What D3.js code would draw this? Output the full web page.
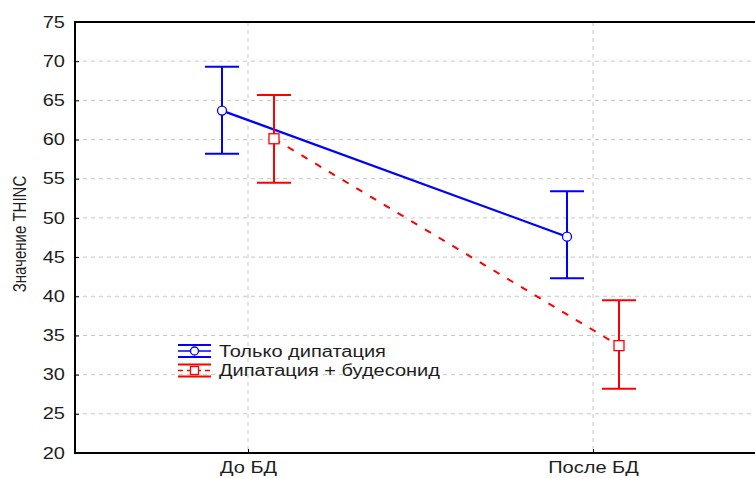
<!DOCTYPE html>
<html>
<head>
<meta charset="utf-8">
<script src="https://cdn.jsdelivr.net/npm/d3@7"></script>
<style>
  html, body { margin: 0; padding: 0; background: #fff; }
  svg { display: block; font-family: "Liberation Sans", Arial, sans-serif; }
</style>
</head>
<body>
<div id="chart"></div>
<script>
const categories = ['До БД', 'После БД'];
const seriesNames = ['Только дипатация', 'Дипатация + будесонид'];
const meanAlone = [63.7, 47.6];
const upperAlone = [69.3, 53.4];
const lowerAlone = [58.2, 42.3];
const meanBud = [60.1, 33.7];
const upperBud = [65.7, 39.5];
const lowerBud = [54.5, 28.2];
const yTicks = [20, 25, 30, 35, 40, 45, 50, 55, 60, 65, 70, 75];
const yTitle = 'Значение THINC';

const width = 755, height = 478;
const plot = { left: 75, top: 22, bottom: 453, right: 767 };
const stretch = 1.25; // the source image is widened horizontally
const textColor = '#1e1e1e';

const svg = d3.select('#chart').append('svg')
  .attr('width', width)
  .attr('height', height);

const y = d3.scaleLinear().domain([20, 75]).range([plot.bottom, plot.top]);
const x = d3.scalePoint().domain(categories).range([248, 593]);

// grid
svg.append('g')
  .selectAll('line')
  .data(yTicks.filter(t => t > 20 && t < 75))
  .enter().append('line')
  .attr('x1', plot.left).attr('x2', plot.right)
  .attr('y1', d => y(d)).attr('y2', d => y(d))
  .attr('stroke', '#c8c8c8')
  .attr('stroke-width', 1)
  .attr('stroke-dasharray', '4,4');

svg.append('g')
  .selectAll('line')
  .data(categories)
  .enter().append('line')
  .attr('x1', d => x(d)).attr('x2', d => x(d))
  .attr('y1', plot.top).attr('y2', plot.bottom)
  .attr('stroke', '#c8c8c8')
  .attr('stroke-width', 1)
  .attr('stroke-dasharray', '4,4');

// axes: ticks point inward, labels are widened like the source
const yAxis = d3.axisLeft(y).tickValues(yTicks).tickSize(-4).tickPadding(10);
const gy = svg.append('g').attr('transform', `translate(${plot.left},0)`).call(yAxis);
gy.select('.domain').remove();
gy.selectAll('line').attr('stroke', '#000');
gy.selectAll('text')
  .attr('font-size', 16).attr('fill', textColor)
  .attr('font-family', '"Liberation Sans", Arial, sans-serif')
  .attr('transform', `translate(-10,0) scale(${stretch},1)`)
  .attr('x', 0);

const xAxis = d3.axisBottom(x).tickSize(-4).tickPadding(0);
const gx = svg.append('g').attr('transform', `translate(0,${plot.bottom})`).call(xAxis);
gx.select('.domain').remove();
gx.selectAll('line').attr('stroke', '#000');
gx.selectAll('text')
  .attr('font-size', 16).attr('fill', textColor)
  .attr('font-family', '"Liberation Sans", Arial, sans-serif')
  .attr('dy', null)
  .attr('y', 0)
  .attr('transform', `translate(0,20) scale(${stretch},1)`);

// frame
svg.append('rect')
  .attr('x', plot.left).attr('y', plot.top)
  .attr('width', plot.right - plot.left).attr('height', plot.bottom - plot.top)
  .attr('fill', 'none')
  .attr('stroke', '#000')
  .attr('stroke-width', 2);

svg.append('text')
  .attr('transform', `translate(26,234) rotate(-90) scale(1,${stretch})`)
  .attr('text-anchor', 'middle')
  .attr('font-size', 15)
  .attr('fill', textColor)
  .text(yTitle);

const series = [
  { name: seriesNames[0], mean: meanAlone, hi: upperAlone, lo: lowerAlone, color: '#0000ff', dx: -26, dash: null, marker: 'circle' },
  { name: seriesNames[1], mean: meanBud, hi: upperBud, lo: lowerBud, color: '#ff0000', dx: 26, dash: '7,9', marker: 'square' }
];

const capHalf = 17;

series.forEach(s => {
  const pts = categories.map((c, i) => ({ x: x(c) + s.dx, m: s.mean[i], hi: s.hi[i], lo: s.lo[i] }));
  const g = svg.append('g');

  g.append('path')
    .attr('d', d3.line().x(d => d.x).y(d => y(d.m))(pts))
    .attr('fill', 'none')
    .attr('stroke', s.color)
    .attr('stroke-width', s.dash ? 2 : 2.3)
    .attr('stroke-dasharray', s.dash);

  g.selectAll('.stem').data(pts).enter().append('line')
    .attr('x1', d => d.x).attr('x2', d => d.x)
    .attr('y1', d => y(d.hi)).attr('y2', d => y(d.lo))
    .attr('stroke', s.color).attr('stroke-width', 2);

  ['hi', 'lo'].forEach(k => {
    g.selectAll('.cap-' + k).data(pts).enter().append('line')
      .attr('x1', d => d.x - capHalf).attr('x2', d => d.x + capHalf)
      .attr('y1', d => y(d[k])).attr('y2', d => y(d[k]))
      .attr('stroke', s.color).attr('stroke-width', 2);
  });

  if (s.marker === 'circle') {
    g.selectAll('.mk').data(pts).enter().append('circle')
      .attr('cx', d => d.x).attr('cy', d => y(d.m)).attr('r', 4.5)
      .attr('fill', '#fff').attr('stroke', s.color).attr('stroke-width', 1.3);
  } else {
    g.selectAll('.mk').data(pts).enter().append('rect')
      .attr('x', d => d.x - 5).attr('y', d => y(d.m) - 5)
      .attr('width', 10).attr('height', 10)
      .attr('fill', '#fff').attr('stroke', s.color).attr('stroke-width', 1.3);
  }
});

// legend
const legend = svg.append('g').attr('transform', 'translate(178,345)');
series.forEach((s, i) => {
  const row = legend.append('g').attr('transform', `translate(0,${i * 19.5})`);
  [0, 12].forEach(yy => row.append('line')
    .attr('x1', 0).attr('x2', 33).attr('y1', yy).attr('y2', yy)
    .attr('stroke', s.color).attr('stroke-width', 2));
  row.append('line').attr('x1', 0).attr('x2', 33).attr('y1', 6).attr('y2', 6)
    .attr('stroke', s.color).attr('stroke-width', 1.5)
    .attr('stroke-dasharray', s.dash ? '5,4' : null);
  if (s.marker === 'circle') {
    row.append('circle').attr('cx', 16.5).attr('cy', 6).attr('r', 4)
      .attr('fill', '#fff').attr('stroke', s.color).attr('stroke-width', 1.3);
  } else {
    row.append('rect').attr('x', 12.5).attr('y', 2).attr('width', 8).attr('height', 8)
      .attr('fill', '#fff').attr('stroke', s.color).attr('stroke-width', 1.3);
  }
  row.append('text')
    .attr('transform', `translate(41,11.5) scale(${stretch},1)`)
    .attr('font-size', 16).attr('fill', textColor)
    .text(s.name);
});
</script>
</body>
</html>
